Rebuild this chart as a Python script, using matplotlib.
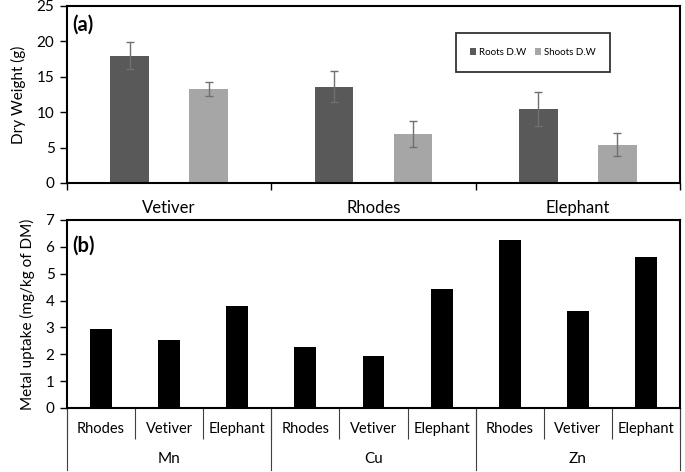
import numpy as np
import matplotlib.pyplot as plt
from matplotlib import transforms

plt.rcParams['font.family'] = ['Lato', 'DejaVu Sans']

# panel (a) data
plants_a = ['Vetiver', 'Rhodes', 'Elephant']
roots_dw = [18.0, 13.6, 10.5]
roots_err = [1.9, 2.2, 2.4]
shoots_dw = [13.3, 6.9, 5.4]
shoots_err = [1.0, 1.8, 1.6]

# panel (b) data
metals = ['Mn', 'Cu', 'Zn']
plants_b = ['Rhodes', 'Vetiver', 'Elephant']
uptake = [2.96, 2.55, 3.80,
          2.27, 1.93, 4.44,
          6.27, 3.62, 5.63]

fig = plt.figure(figsize=(6.85, 4.72), dpi=100)
ax1 = fig.add_axes([0.0978, 0.6123, 0.8949, 0.375])
ax2 = fig.add_axes([0.0978, 0.1356, 0.8949, 0.3983])

dark = '#595959'
light = '#a6a6a6'

# ---- (a) ----
x = np.arange(len(plants_a))
w = 0.19
ekw = dict(ecolor='#707070', elinewidth=1, capsize=3, capthick=1)
ax1.bar(x - 0.193, roots_dw, w, color=dark, label='Roots D.W', yerr=roots_err, error_kw=ekw)
ax1.bar(x + 0.193, shoots_dw, w, color=light, label='Shoots D.W', yerr=shoots_err, error_kw=ekw)
ax1.set_xlim(-0.5, len(plants_a) - 0.5)
ax1.set_ylim(0, 25)
ax1.set_yticks(range(0, 26, 5))
ax1.set_xticks(np.arange(len(plants_a) + 1) - 0.5)
ax1.set_xticklabels([])
ax1.set_xticks(x, minor=True)
ax1.set_xticklabels(plants_a, minor=True, fontsize=12)
ax1.tick_params(axis='x', which='major', direction='out', length=5, width=1)
ax1.tick_params(axis='x', which='minor', length=0, pad=12)
ax1.tick_params(axis='y', direction='out', length=5, width=1, labelsize=11, pad=4)
ax1.set_ylabel('Dry Weight (g)', fontsize=11, labelpad=8)
for s in ax1.spines.values():
    s.set_linewidth(1.5)
ax1.text(0.009, 0.86, '(a)', transform=ax1.transAxes, fontsize=14.5, fontweight='bold')
leg = ax1.legend(loc='upper left', bbox_to_anchor=(0.634, 0.845), ncol=2, fontsize=7,
                 frameon=True, fancybox=False, edgecolor='black', handlelength=0.6,
                 handleheight=0.6, columnspacing=0.9, handletextpad=0.3,
                 borderpad=1.5, borderaxespad=0)
leg.get_frame().set_linewidth(1.3)

# ---- (b) ----
xb = np.arange(len(uptake))
ax2.bar(xb, uptake, 0.32, color='black')
ax2.set_xlim(-0.5, len(uptake) - 0.5)
ax2.set_ylim(0, 7)
ax2.set_yticks(range(0, 8))
ax2.set_xticks(np.arange(len(uptake) + 1) - 0.5)
ax2.set_xticklabels([])
ax2.set_xticks(xb, minor=True)
ax2.set_xticklabels(plants_b * len(metals), minor=True, fontsize=10.5)
ax2.tick_params(axis='x', which='major', direction='out', length=22, width=0.8, color='#404040')
ax2.tick_params(axis='x', which='minor', length=0, pad=10)
ax2.tick_params(axis='y', direction='out', length=5, width=1, labelsize=11, pad=4)
ax2.set_ylabel('Metal uptake (mg/kg of DM)', fontsize=11, labelpad=8)
for s in ax2.spines.values():
    s.set_linewidth(1.5)
ax2.text(0.009, 0.83, '(b)', transform=ax2.transAxes, fontsize=14.5, fontweight='bold')

trans = transforms.blended_transform_factory(ax2.transData, ax2.transAxes)
for i in range(len(metals) + 1):
    xs = i * len(plants_b) - 0.5
    ax2.plot([xs, xs], [0, -0.33], transform=trans, color='#404040', lw=0.8, clip_on=False)
for i, m in enumerate(metals):
    ax2.text(i * len(plants_b) + 1, -0.27, m, transform=trans, ha='center', va='center', fontsize=11)

fig.savefig('out.png', dpi=100)
